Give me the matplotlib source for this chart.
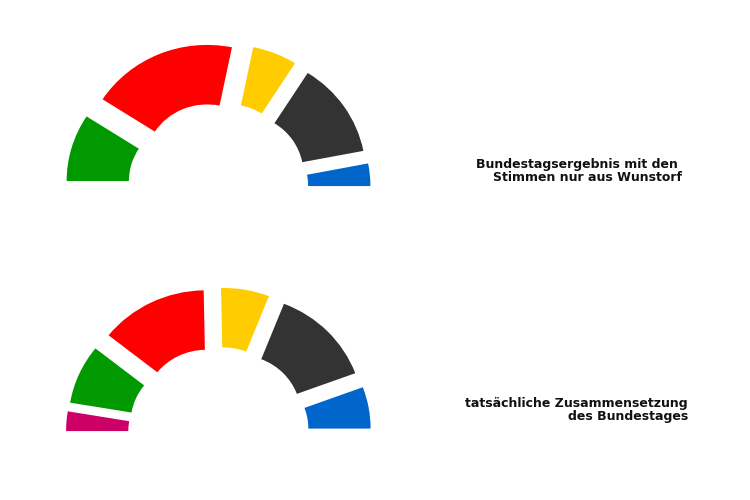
import matplotlib
matplotlib.use("Agg")
import matplotlib.pyplot as plt

# ── Data ───────────────────────────────────────────────────────────────────
# Top: Bundestag result from Wunstorf votes only (shares, left to right)
wunstorf_parties = ["Grüne", "SPD", "FDP", "CDU/CSU", "AfD"]
wunstorf_values  = [18.3, 38.2, 11.6, 26.0, 6.1]
wunstorf_colors  = ["#009900", "#ff0000", "#ffcc00", "#333333", "#0066cc"]

# Bottom: actual composition of the Bundestag (seats, left to right)
bundestag_parties = ["Linke", "Grüne", "SPD", "FDP", "CDU/CSU", "AfD"]
bundestag_values  = [39, 118, 206, 92, 197, 83]
bundestag_colors  = ["#cc0066", "#009900", "#ff0000", "#ffcc00", "#333333", "#0066cc"]

titles = [
    "Bundestagsergebnis mit den \nStimmen nur aus Wunstorf",
    "tatsächliche Zusammensetzung\ndes Bundestages",
]

# ── Layout (pixel based, figure is 750 x 500) ──────────────────────────────
W, H = 750, 500
KX, KY = 124.5, 119.0          # px per data unit (horizontal / vertical)
XLIM = (-1.5, 1.5)
YLIM = (-0.4, 1.45)
EXPLODE = 0.225


def add_half_donut(fig, cx, cy, values, colors):
    left = cx + XLIM[0] * KX
    top = cy - YLIM[1] * KY
    w = (XLIM[1] - XLIM[0]) * KX
    h = (YLIM[1] - YLIM[0]) * KY
    ax = fig.add_axes([left / W, (H - top - h) / H, w / W, h / H])

    total = sum(values)
    wedges, _ = ax.pie(
        list(values) + [total],
        colors=list(colors) + ["white"],
        explode=[EXPLODE] * len(values) + [0],
        startangle=180,
        counterclock=False,
        wedgeprops=dict(width=0.5, linewidth=0),
    )
    wedges[-1].set_visible(False)   # hidden lower half
    ax.set_aspect("auto")
    ax.set_xlim(*XLIM)
    ax.set_ylim(*YLIM)
    ax.axis("off")
    return ax


fig = plt.figure(figsize=(W / 100, H / 100), dpi=100)

add_half_donut(fig, 218.0, 188.6, wunstorf_values, wunstorf_colors)
add_half_donut(fig, 218.5, 433.3, bundestag_values, bundestag_colors)

fig.text(682 / W, 1 - 171 / H, titles[0], ha="right", va="center",
         multialignment="right", fontsize=9, fontweight="bold",
         color="#111111", linespacing=1.05)
fig.text(688 / W, 1 - 410 / H, titles[1], ha="right", va="center",
         multialignment="right", fontsize=9, fontweight="bold",
         color="#111111", linespacing=1.05)

fig.savefig("out.png", dpi=100, facecolor="white")
